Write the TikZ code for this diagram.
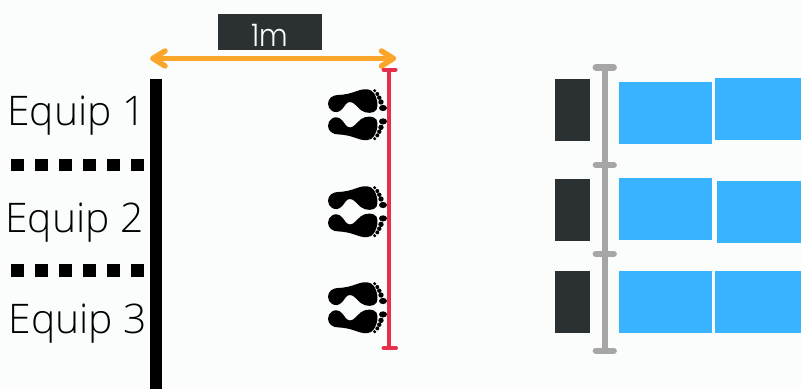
\documentclass[tikz,border=0pt]{standalone}
\usepackage{fontspec}
\newfontfamily\eqfont{Open Sans Light}
\newfontfamily\mfont{Poppins Light}
\definecolor{bgc}{HTML}{FBFDFC}
\definecolor{darkc}{HTML}{2B3033}
\definecolor{bluec}{HTML}{38B3FF}
\definecolor{greyc}{HTML}{A6A6A6}
\definecolor{orangec}{HTML}{FBA62B}
\definecolor{redc}{HTML}{E62E4D}
\tikzset{
 x=1pt,y=-1pt,
 eqlabel/.style={inner sep=0pt,anchor=base,font=\eqfont\fontsize{40.8}{41}\selectfont,text=black},
 dotsq/.style={fill=black,draw=none},
 darkbox/.style={fill=darkc,draw=none},
 bluebox/.style={fill=bluec,draw=none},
 greyline/.style={draw=greyc,line width=6.4pt,line cap=round},
 redline/.style={draw=redc,line width=4pt},
 orangeline/.style={draw=orangec,line width=5.5pt,line cap=round,line join=round},
 footpair/.pic={
  \foreach \s in {1,-1}{
   \begin{scope}[yscale=\s]
   \fill[black] (-30,-11) .. controls (-30,-16.5) and (-25,-19.7) .. (-20,-19.7)
     .. controls (-12,-20) and (-7,-21.5) .. (0,-24)
     .. controls (7,-26.5) and (13,-26) .. (16,-21.5)
     .. controls (19.5,-16) and (20.5,-9) .. (18.5,-5)
     .. controls (16,-1) and (8,-0.8) .. (3,-4.5)
     .. controls (-2,-8.5) and (-4,-12.7) .. (-8,-12.7)
     .. controls (-12,-12.7) and (-13,-8.5) .. (-16,-5.5)
     .. controls (-19,-2.2) and (-23,-1.8) .. (-26,-3.8)
     .. controls (-28.5,-5.5) and (-30,-8) .. (-30,-11) -- cycle;
   \fill[black] (16.7,-24) circle (1.7);
   \fill[black] (19.3,-20.7) circle (2);
   \fill[black] (21.3,-17) circle (2.2);
   \fill[black] (23,-12.7) circle (2.7);
   \fill[black] (25,-6.7) ellipse (4 and 3.1);
   \end{scope}
  }
 }
}
\begin{document}
\begin{tikzpicture}
\path[use as bounding box,fill=bgc] (0,0) rectangle (801,389);
% left bar and separators
\fill[black] (150,79) rectangle (162.3,389);
\foreach \yy in {158.7,264.4}
 \foreach \xx in {11.4,35.4,59.4,83.4,107.4,131.4}
  \path[dotsq] (\xx,\yy) rectangle +(12.3,12.3);
\node[eqlabel] (e1) at (76.5,125) {Equip 1};
\node[eqlabel] (e2) at (74.5,232) {Equip 2};
\node[eqlabel] (e3) at (78,333) {Equip 3};
% 1m
\node[darkbox,minimum width=104pt,minimum height=36pt,inner sep=0pt,anchor=north west,text=white] (m) at (218,14) {};
\node[inner sep=0pt,text=white,font=\mfont\fontsize{31}{31}\selectfont,anchor=base,xscale=0.9] (ml) at (270,46) {1m};
% arrow
\coordinate (al) at (153,58.4);
\coordinate (ar) at (393.3,58.4);
\draw[orangeline] (al) -- (ar);
\draw[orangeline] (165,51) -- (al) -- (165,66);
\draw[orangeline] (381.5,51) -- (ar) -- (381.5,66);
% red line
\coordinate (rt) at (389.3,69.5);
\coordinate (rb) at (389.3,348);
\draw[redline] (rt) -- (rb);
\draw[redline,line cap=round] (383.5,69.5) -- (395.5,69.5);
\draw[redline,line cap=round] (383.5,348) -- (396,348);
% feet
\pic at (358,114.7) {footpair};
\pic at (358,211.7) {footpair};
\pic at (358,307.7) {footpair};
% right side
\foreach \a/\b in {79/141,179/241,271/333}
 \path[darkbox] (555,\a) rectangle (590,\b);
\coordinate (gt) at (604.8,67.5);
\coordinate (gb) at (604.8,350.7);
\draw[draw=greyc,line width=6.4pt] (gt) -- (gb);
\foreach \yy in {67.5,165,253.7,350.7}
 \draw[greyline] (595.8,\yy) -- (613.7,\yy);
\path[bluebox] (619,82) rectangle (712,144);
\path[bluebox] (715,78) rectangle (801,140);
\path[bluebox] (619,178) rectangle (712,240);
\path[bluebox] (717,181) rectangle (801,243);
\path[bluebox] (619,271) rectangle (712,333);
\path[bluebox] (715,271) rectangle (801,333);
\end{tikzpicture}
\end{document}
